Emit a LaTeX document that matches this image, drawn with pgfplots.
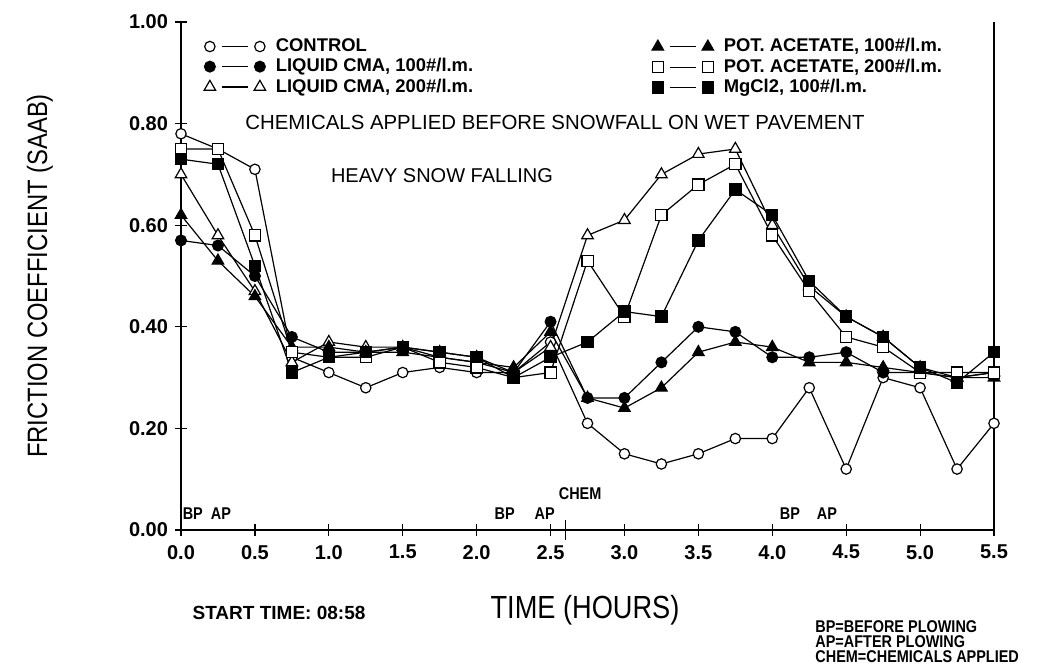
\documentclass[border=0pt]{standalone}
\usepackage{fontspec}
\setmainfont{Liberation Sans}
\newfontfamily\nf[FakeStretch=0.85]{Liberation Sans}
\usepackage{pgfplots}
\usepackage{pgfplotstable}
\pgfplotsset{compat=1.18}
\pgfplotstableread{
t ctrl c100 c200 p100 p200 mg
0.00 0.78 0.57 0.70 0.62 0.75 0.73
0.25 0.75 0.56 0.58 0.53 0.75 0.72
0.50 0.71 0.50 0.47 0.46 0.58 0.52
0.75 0.34 0.38 0.33 0.36 0.35 0.31
1.00 0.31 0.35 0.37 0.36 0.34 0.34
1.25 0.28 0.35 0.36 0.35 0.34 0.35
1.50 0.31 0.36 0.36 0.35 0.36 0.36
1.75 0.32 0.34 0.35 0.34 0.33 0.35
2.00 0.31 0.33 0.34 0.33 0.32 0.34
2.25 0.31 0.31 0.31 0.32 0.30 0.30
2.50 0.37 0.41 0.36 0.39 0.31 0.34
2.75 0.21 0.26 0.58 0.26 0.53 0.37
3.00 0.15 0.26 0.61 0.24 0.42 0.43
3.25 0.13 0.33 0.70 0.28 0.62 0.42
3.50 0.15 0.40 0.74 0.35 0.68 0.57
3.75 0.18 0.39 0.75 0.37 0.72 0.67
4.00 0.18 0.34 0.60 0.36 0.58 0.62
4.25 0.28 0.34 0.48 0.33 0.47 0.49
4.50 0.12 0.35 0.42 0.33 0.38 0.42
4.75 0.30 0.31 0.38 0.32 0.36 0.38
5.00 0.28 0.31 0.32 0.31 0.31 0.32
5.25 0.12 0.30 0.30 0.30 0.31 0.29
5.50 0.21 0.31 0.31 0.30 0.31 0.35
}\data
\pgfplotsset{
  mylegimg/.style={
    legend image code/.code={
      \path[draw=none, fill=none] (32pt,-1pt) rectangle (32pt,1pt);
      \draw[##1,mark=none] (6pt,0pt) -- (19pt,0pt);
      \draw[##1] plot[only marks] coordinates {(0pt,0pt) (25pt,0pt)};
    }
  },
  myleg/.style={
    legend style={draw=none, fill=none, inner sep=0pt, row sep=0pt,
      font=\bfseries\fontsize{9.2}{9}\selectfont,
      nodes={inner sep=1pt, anchor=west},
      cells={anchor=west}},
    legend cell align=left,
  },
  every axis plot/.append style={black, line width=0.6pt},
  mk/.style={mark options={solid, line width=0.6pt, scale=1}},
}
\begin{document}
\begin{tikzpicture}
\useasboundingbox (-90.5pt,-67pt) rectangle (430.5pt,265pt);
\begin{axis}[
  name=ax,
  scale only axis, width=406.5pt, height=254pt,
  at={(0pt,0pt)}, anchor=south west,
  xmin=0, xmax=5.5, ymin=0, ymax=1,
  clip=false,
  axis line style={draw=none},
  xtick={0,0.5,1,1.5,2,2.5,3,3.5,4,4.5,5,5.5},
  xticklabels={0.0,0.5,1.0,1.5,2.0,2.5,3.0,3.5,4.0,4.5,5.0,5.5},
  ytick={0,0.2,0.4,0.6,0.8,1},
  yticklabels={0.00,0.20,0.40,0.60,0.80,1.00},
  tick align=center, major tick length=6pt,
  xtick pos=bottom, ytick pos=left,
  tick style={black, line width=0.6pt},
  ticklabel style={font=\bfseries\fontsize{10}{12}\selectfont},
  xticklabel style={yshift=-1pt},
  mylegimg, myleg,
  legend style={at={(axis description cs:0.028,0.972)}, anchor=north west},
  legend columns=1,
]
\draw[line width=0.8pt] (axis cs:0,1) -- (axis cs:0,0) -- (axis cs:5.5,0) -- (axis cs:5.5,1);
\draw[line width=0.6pt] (axis cs:2.6,0) ++(0pt,-5pt) -- ++(0pt,10pt);

\addplot[mark=*, mk, mark size=2.6pt, mark options={fill=white}] table[x=t,y=ctrl] {\data};
\addlegendentry{CONTROL}
\addplot[mark=*, mk, mark size=2.7pt, mark options={fill=black}] table[x=t,y=c100] {\data};
\addlegendentry{LIQUID CMA, 100\#/l.m.}
\addplot[mark=triangle*, mk, mark size=3.3pt, mark options={fill=white}] table[x=t,y=c200] {\data};
\addlegendentry{LIQUID CMA, 200\#/l.m.}
\addplot[mark=triangle*, mk, mark size=3.3pt, mark options={fill=black}, forget plot] table[x=t,y=p100] {\data};
\addplot[mark=square*, mk, mark size=2.8pt, mark options={fill=white}, forget plot] table[x=t,y=p200] {\data};
\addplot[mark=square*, mk, mark size=2.8pt, mark options={fill=black}, forget plot] table[x=t,y=mg] {\data};

\node[font=\nf\bfseries\fontsize{8.5}{9}\selectfont, anchor=base] at (axis cs:0.08,0.02) {BP};
\node[font=\nf\bfseries\fontsize{8.5}{9}\selectfont, anchor=base] at (axis cs:0.27,0.02) {AP};
\node[font=\nf\bfseries\fontsize{8.5}{9}\selectfont, anchor=base] at (axis cs:2.19,0.02) {BP};
\node[font=\nf\bfseries\fontsize{8.5}{9}\selectfont, anchor=base] at (axis cs:2.46,0.02) {AP};
\node[font=\nf\bfseries\fontsize{8.5}{9}\selectfont, anchor=base] at (axis cs:2.7,0.06) {CHEM};
\node[font=\nf\bfseries\fontsize{8.5}{9}\selectfont, anchor=base] at (axis cs:4.12,0.02) {BP};
\node[font=\nf\bfseries\fontsize{8.5}{9}\selectfont, anchor=base] at (axis cs:4.37,0.02) {AP};

\node[font=\fontsize{10.2}{12}\selectfont] at (187pt,204pt) {CHEMICALS APPLIED BEFORE SNOWFALL ON WET PAVEMENT};
\node[font=\fontsize{10}{12}\selectfont] at (130.5pt,177pt) {HEAVY SNOW FALLING};
\end{axis}

\begin{axis}[
  scale only axis, width=406.5pt, height=254pt,
  at={(0pt,0pt)}, anchor=south west,
  xmin=0, xmax=5.5, ymin=0, ymax=1,
  hide axis,
  mylegimg, myleg,
  legend style={at={(axis description cs:0.579,0.972)}, anchor=north west},
]
\addlegendimage{black, line width=0.6pt, mark=triangle*, mark size=3.3pt, mark options={solid, fill=black}}
\addlegendentry{POT. ACETATE, 100\#/l.m.}
\addlegendimage{black, line width=0.6pt, mark=square*, mark size=2.8pt, mark options={solid, fill=white}}
\addlegendentry{POT. ACETATE, 200\#/l.m.}
\addlegendimage{black, line width=0.6pt, mark=square*, mark size=2.8pt, mark options={solid, fill=black}}
\addlegendentry{MgCl2, 100\#/l.m.}
\end{axis}

\node[rotate=90, font=\nf\fontsize{14}{16}\selectfont] at (-70.5pt,127pt) {FRICTION COEFFICIENT (SAAB)};
\node[font=\nf\fontsize{16}{18}\selectfont] at (202pt,-40pt) {TIME (HOURS)};
\node[font=\bfseries\fontsize{9.5}{11}\selectfont] at (49pt,-41.5pt) {START TIME: 08:58};
\node[font=\nf\bfseries\fontsize{8.5}{9}\selectfont, anchor=base west, inner sep=0pt] at (317pt,-51pt) {BP=BEFORE PLOWING};
\node[font=\nf\bfseries\fontsize{8.5}{9}\selectfont, anchor=base west, inner sep=0pt] at (317pt,-58.5pt) {AP=AFTER PLOWING};
\node[font=\nf\bfseries\fontsize{8.5}{9}\selectfont, anchor=base west, inner sep=0pt] at (317pt,-66pt) {CHEM=CHEMICALS APPLIED};
\end{tikzpicture}
\end{document}
